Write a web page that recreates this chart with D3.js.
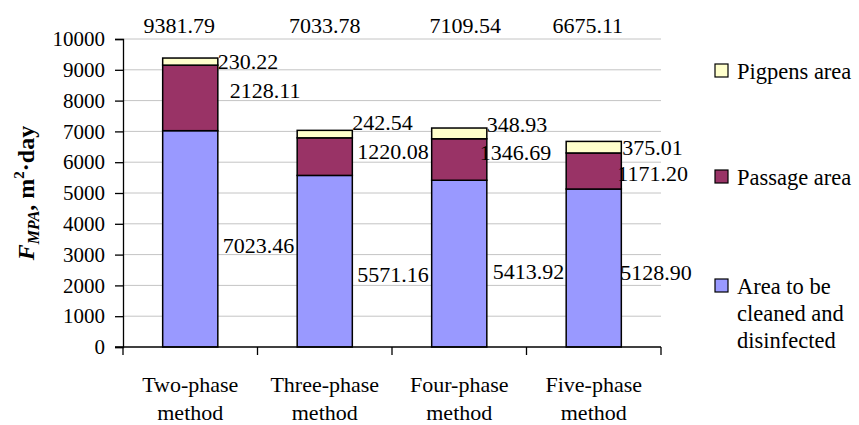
<!DOCTYPE html>
<html>
<head>
<meta charset="utf-8">
<script src="https://cdn.jsdelivr.net/npm/d3@7"></script>
<style>
  body { margin: 0; background: #fff; }
  svg { display: block; }
</style>
</head>
<body>
<div id="chart"></div>
<script>
// --- data
const categories = ['Two-phase method', 'Three-phase method', 'Four-phase method', 'Five-phase method'];
const seriesNames = ['Area to be cleaned and disinfected', 'Passage area', 'Pigpens area'];
const cleanedArea = [7023.46, 5571.16, 5413.92, 5128.90];
const passageArea = [2128.11, 1220.08, 1346.69, 1171.20];
const pigpensArea = [230.22, 242.54, 348.93, 375.01];
const totals = [9381.79, 7033.78, 7109.54, 6675.11];
const yTicks = [0, 1000, 2000, 3000, 4000, 5000, 6000, 7000, 8000, 9000, 10000];

// label nudges (px) as placed in the original, [dx from bar edge, dy from segment middle]
const labelNudge = [
    [[5, 6], [12, -8], [0, 0]],
    [[5, 13], [5, -5], [0, -12]],
    [[6, 8], [-7, -7], [0, -9]],
    [[-1, 4], [-4, 2], [1, 0]],
];
const totalNudge = [-11, 0, 6, -6];

const colors = ['#9999ff', '#993366', '#ffffcc'];
const FONT = '"Liberation Serif"';

const width = 859, height = 425;
const margin = { left: 123, right: 198, top: 39, bottom: 78 };

const svg = d3.select('#chart').append('svg')
    .attr('width', width)
    .attr('height', height);

const x = d3.scaleBand()
    .domain(categories)
    .range([margin.left, width - margin.right])
    .paddingInner(0.59)
    .paddingOuter(0.295);
const y = d3.scaleLinear()
    .domain([0, 10000])
    .range([height - margin.bottom, margin.top]);

const rows = categories.map((c, i) => ({
    category: c,
    [seriesNames[0]]: cleanedArea[i],
    [seriesNames[1]]: passageArea[i],
    [seriesNames[2]]: pigpensArea[i],
}));
const stacked = d3.stack().keys(seriesNames)(rows);

// --- gridlines
svg.append('g').attr('class', 'grid')
    .selectAll('line')
    .data(yTicks.filter(d => d > 0))
    .join('line')
    .attr('x1', margin.left)
    .attr('x2', width - margin.right)
    .attr('y1', d => y(d))
    .attr('y2', d => y(d))
    .attr('stroke', '#c4c4c4')
    .attr('stroke-width', 1);

// --- bars
const g_bars = svg.append('g');
stacked.forEach((layer, si) => {
    g_bars.append('g')
        .selectAll('rect')
        .data(layer)
        .join('rect')
        .attr('x', d => x(d.data.category))
        .attr('width', x.bandwidth())
        .attr('y', d => y(d[1]))
        .attr('height', d => y(d[0]) - y(d[1]))
        .attr('fill', colors[si])
        .attr('stroke', '#000')
        .attr('stroke-width', 1.5);
});

// --- axes
const yAxis = d3.axisLeft(y).tickValues(yTicks).tickSize(8).tickPadding(10).tickFormat(d3.format('d'));
const gy = svg.append('g')
    .attr('transform', `translate(${margin.left},0)`)
    .call(yAxis);
gy.select('.domain').attr('stroke', '#000').attr('stroke-width', 1.3);
gy.selectAll('.tick line').attr('stroke', '#000').attr('stroke-width', 1.3);
gy.selectAll('.tick text')
    .style('font-family', FONT)
    .style('font-size', '21px')
    .style('fill', '#000');

// category boundary ticks on the x axis
const xEdges = [margin.left].concat(categories.map(c => x(c) + x.bandwidth() + (x.step() - x.bandwidth()) / 2));
const gx = svg.append('g');
gx.append('line')
    .attr('x1', margin.left - 8).attr('x2', width - margin.right)
    .attr('y1', y(0)).attr('y2', y(0))
    .attr('stroke', '#000').attr('stroke-width', 1.3);
gx.selectAll('line.tk')
    .data(xEdges)
    .join('line')
    .attr('class', 'tk')
    .attr('x1', d => d).attr('x2', d => d)
    .attr('y1', y(0)).attr('y2', y(0) + 8)
    .attr('stroke', '#000').attr('stroke-width', 1.3);

// category labels on two lines
const g_text = svg.append('g');
g_text.selectAll('text.cat')
    .data(categories)
    .join('text')
    .attr('class', 'cat')
    .attr('text-anchor', 'middle')
    .attr('x', d => x(d) + x.bandwidth() / 2)
    .attr('y', y(0) + 45)
    .each(function(d) {
        const parts = d.split(' ');
        d3.select(this).append('tspan').text(parts[0]);
        d3.select(this).append('tspan')
            .attr('x', x(d) + x.bandwidth() / 2)
            .attr('dy', 28)
            .text(parts.slice(1).join(' '));
    });

// --- value labels
stacked.forEach((layer, si) => {
    g_text.append('g')
        .selectAll('text')
        .data(layer)
        .join('text')
        .attr('x', (d, i) => x(d.data.category) + x.bandwidth() + labelNudge[i][si][0])
        .attr('y', (d, i) => y((d[0] + d[1]) / 2) + labelNudge[i][si][1])
        .attr('dy', '0.35em')
        .text(d => (d[1] - d[0]).toFixed(2));
});

g_text.append('g')
    .selectAll('text')
    .data(totals)
    .join('text')
    .attr('text-anchor', 'middle')
    .attr('x', (d, i) => x(categories[i]) + x.bandwidth() / 2 + totalNudge[i])
    .attr('y', 33)
    .text(d => d.toFixed(2));

g_text.selectAll('text')
    .style('font-family', FONT)
    .style('font-size', '22px')
    .style('fill', '#000');

// --- legend (top item = last series)
const legendItems = [
    { color: colors[2], lines: ['Pigpens area'], y: 79 },
    { color: colors[1], lines: ['Passage area'], y: 185 },
    { color: colors[0], lines: ['Area to be', 'cleaned and', 'disinfected'], y: 294 },
];
const g_legend = svg.append('g');
legendItems.forEach(item => {
    g_legend.append('rect')
        .attr('x', 715).attr('y', item.y - 15)
        .attr('width', 13).attr('height', 13)
        .attr('fill', item.color)
        .attr('stroke', '#000').attr('stroke-width', 1.2);
    const t = g_legend.append('text').attr('x', 737).attr('y', item.y)
        .style('font-family', FONT)
        .style('font-size', '22.5px')
        .style('fill', '#000');
    item.lines.forEach((ln, li) => {
        t.append('tspan').attr('x', 737).attr('dy', li === 0 ? 0 : 27).text(ln);
    });
});

// --- y axis title
const yTitle = svg.append('text')
    .attr('transform', `translate(34,${(y(0) + y(10000)) / 2}) rotate(-90)`)
    .attr('text-anchor', 'middle')
    .style('font-family', FONT)
    .style('font-size', '24px')
    .style('font-weight', 'bold');
yTitle.append('tspan').style('font-style', 'italic').text('F');
yTitle.append('tspan').style('font-style', 'italic').style('font-size', '16px').attr('dy', 5).text('MPA');
yTitle.append('tspan').attr('dy', -5).text(', m');
yTitle.append('tspan').style('font-size', '15px').attr('dy', -10).text('2');
yTitle.append('tspan').attr('dy', 10).text('·day');
</script>
</body>
</html>
